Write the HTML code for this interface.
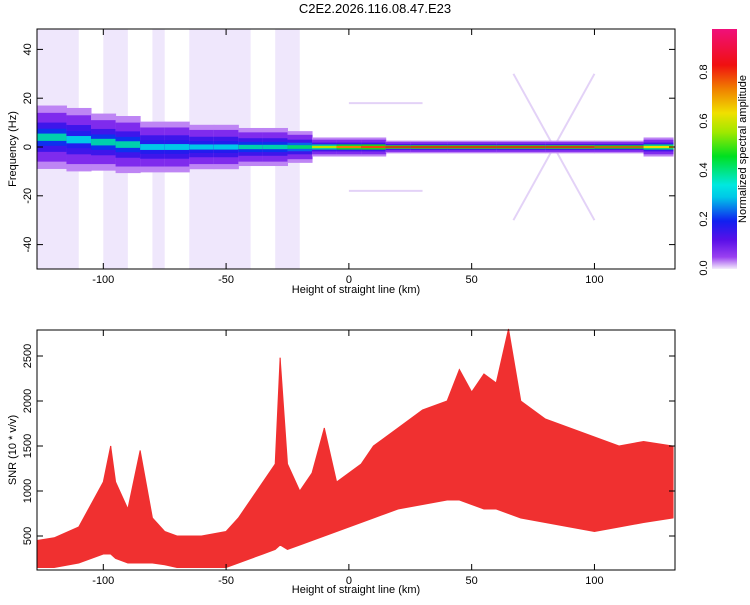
<!DOCTYPE html>
<html><head><meta charset="utf-8"><style>
body{margin:0;background:#fff;font-family:"Liberation Sans",sans-serif}
svg text{font-family:"Liberation Sans",sans-serif;font-size:11px;fill:#000}
</style></head><body>
<svg id="s" width="750" height="600">
<defs>
<linearGradient id="cb" x1="0" y1="1" x2="0" y2="0">
<stop offset="0" stop-color="#f4ecfb"/><stop offset="0.05" stop-color="#9a40f0"/>
<stop offset="0.12" stop-color="#5a10e8"/><stop offset="0.2" stop-color="#1020f0"/>
<stop offset="0.3" stop-color="#00c8e8"/><stop offset="0.35" stop-color="#00e8e0"/>
<stop offset="0.47" stop-color="#00e020"/><stop offset="0.57" stop-color="#a0e800"/>
<stop offset="0.65" stop-color="#f0e000"/><stop offset="0.75" stop-color="#f08000"/>
<stop offset="0.85" stop-color="#f01010"/><stop offset="1" stop-color="#f0107a"/>
</linearGradient>
<clipPath id="ct"><rect x="37" y="29" width="638" height="240"/></clipPath>
</defs>
<text x="375" y="13" text-anchor="middle" style="font-size:13px">C2E2.2026.116.08.47.E23</text>
<g id="topPlot"></g><g id="botPlot"></g>
<rect x="712" y="29" width="25" height="240" fill="url(#cb)"/>
<text transform="translate(746,149) rotate(-90)" text-anchor="middle">Normalized spectral amplitude</text>
</svg>
<script>
// ---- spectrogram data ----
const bandHeights=[-127,-115,-105,-95,-85,-75,-65,-55,-45,-35,-25,-15,-5,5,15,25,40,60,80,100,120,132];
const bandCenter=[4,3,2,1,0,0,0,0,0,0,0,0,0,0,0,0,0,0,0,0,0,0];
const bandWidth=[10,10,9,9,8,8,7,7,6,6,5,3,3,3,2,2,2,2,2,2,3,3];
const bandAmp=[0.35,0.3,0.35,0.35,0.3,0.3,0.3,0.3,0.35,0.35,0.4,0.6,0.75,0.8,0.85,0.85,0.85,0.85,0.85,0.8,0.65,0.6];
const streakRanges=[[-127,-110],[-100,-90],[-80,-75],[-65,-40],[-30,-20]];
const cbTicks=[0.0,0.2,0.4,0.6,0.8];
// ---- SNR data ----
const snrHeights=[-127,-120,-110,-100,-97,-95,-90,-85,-80,-75,-70,-60,-50,-45,-40,-35,-30,-28,-25,-20,-15,-10,-5,0,5,10,15,20,30,40,45,50,55,60,65,70,80,90,100,110,120,132];
const snrLow=[150,150,200,300,300,250,200,200,200,180,150,150,150,200,250,300,350,400,350,400,450,500,550,600,650,700,750,800,850,900,900,850,800,800,750,700,650,600,550,600,650,700];
const snrHigh=[450,480,600,1100,1500,1100,800,1450,700,550,500,500,550,700,900,1100,1300,2480,1300,1000,1200,1700,1100,1200,1300,1500,1600,1700,1900,2000,2350,2100,2300,2200,2800,2000,1800,1700,1600,1500,1550,1500];
const xTicks=[-100,-50,0,50,100];
const fTicks=[-40,-20,0,20,40];
const snrTicks=[500,1000,1500,2000,2500];

const NS="http://www.w3.org/2000/svg";
function mk(p,t,a){const e=document.createElementNS(NS,t);for(const k in a)e.setAttribute(k,a[k]);p.appendChild(e);return e;}
const L=37,R=675;
const X=h=>L+(h+127)*(R-L)/(132.8+127);
const T0=29,T1=269;
const FY=f=>147-f*2.44;
const B0=330,B1=570;
const SY=v=>536-(v-500)*0.09;
const AY=a=>268-a*245;
function col(a){const st=[[0,[244,236,251]],[0.05,[154,64,240]],[0.12,[90,16,232]],[0.2,[16,32,240]],[0.3,[0,200,232]],[0.47,[0,224,32]],[0.57,[160,232,0]],[0.65,[240,224,0]],[0.75,[240,128,0]],[0.85,[240,16,16]],[1,[240,16,122]]];
for(let i=1;i<st.length;i++){if(a<=st[i][0]){const t=(a-st[i-1][0])/(st[i][0]-st[i-1][0]);return 'rgb('+st[i-1][1].map((c,j)=>Math.round(c+(st[i][1][j]-c)*t)).join(',')+')';}}return 'rgb(240,16,122)';}

const topG=document.getElementById('topPlot');
const tg=mk(topG,'g',{'clip-path':'url(#ct)'});
streakRanges.forEach(r=>{
 const e=mk(tg,'rect',{x:X(r[0]),y:T0,width:X(r[1])-X(r[0]),height:T1-T0,fill:'#b890f0',opacity:0.22});
 
 
});
[[[67,-30],[100,30]],[[67,30],[100,-30]],[[0,18],[30,18]],[[0,-18],[30,-18]]].forEach(l=>{
 const e=mk(tg,'line',{x1:X(l[0][0]),y1:FY(l[0][1]),x2:X(l[1][0]),y2:FY(l[1][1]),stroke:'#d8c0f4','stroke-width':2,opacity:0.7});
 
 
});
for(let i=0;i<bandHeights.length-1;i++){
 const x0=X(bandHeights[i]),x1=X(bandHeights[i+1]),c=bandCenter[i],w=bandWidth[i],a=bandAmp[i];
 [[w*1.3,0.03],[w,0.08],[w*0.6,0.15],[w*0.35,a*0.6],[w*0.15,a]].forEach(([hw,am])=>{
  const e=mk(tg,'rect',{x:x0,y:FY(c+hw),width:x1-x0+0.5,height:Math.max(1,FY(c-hw)-FY(c+hw)),fill:col(am)});
  
  
 });
}
mk(topG,'rect',{x:L,y:T0,width:R-L,height:T1-T0,fill:'none',stroke:'#000','stroke-width':1});
xTicks.forEach(t=>{mk(topG,'line',{x1:X(t),y1:T1,x2:X(t),y2:T1-6,stroke:'#000'});mk(topG,'line',{x1:X(t),y1:T0,x2:X(t),y2:T0+6,stroke:'#000'});
 const e=mk(topG,'text',{x:X(t),y:T1+14,'text-anchor':'middle'});e.textContent=t;});
fTicks.forEach(t=>{mk(topG,'line',{x1:L,y1:FY(t),x2:L+6,y2:FY(t),stroke:'#000'});mk(topG,'line',{x1:R,y1:FY(t),x2:R-6,y2:FY(t),stroke:'#000'});
 const e=mk(topG,'text',{transform:`translate(${L-6},${FY(t)}) rotate(-90)`,'text-anchor':'middle'});e.textContent=t;});
let e=mk(topG,'text',{x:356,y:293,'text-anchor':'middle'});e.textContent='Height of straight line (km)';

e=mk(topG,'text',{transform:'translate(16,149) rotate(-90)','text-anchor':'middle'});e.textContent='Frequency (Hz)';

const svg=document.getElementById('s');
cbTicks.forEach(t=>{const e=mk(svg,'text',{transform:`translate(707,${AY(t)}) rotate(-90)`,'text-anchor':'middle'});e.textContent=t.toFixed(1);
 });

const botG=document.getElementById('botPlot');
let up=snrHeights.map((h,i)=>X(h)+','+SY(snrHigh[i]));
let dn=snrHeights.map((h,i)=>X(h)+','+SY(snrLow[i])).reverse();
e=mk(botG,'polygon',{points:up.concat(dn).join(' '),fill:'#f03030',stroke:'#f03030','stroke-width':1});

snrHeights.forEach((h,i)=>{const l=mk(botG,'line',{x1:X(h),y1:SY(snrLow[i]),x2:X(h),y2:SY(snrHigh[i]),stroke:'#f03030','stroke-width':1});
 });
mk(botG,'rect',{x:L,y:B0,width:R-L,height:B1-B0,fill:'none',stroke:'#000'});
xTicks.forEach(t=>{mk(botG,'line',{x1:X(t),y1:B1,x2:X(t),y2:B1-6,stroke:'#000'});mk(botG,'line',{x1:X(t),y1:B0,x2:X(t),y2:B0+6,stroke:'#000'});
 const e=mk(botG,'text',{x:X(t),y:B1+14,'text-anchor':'middle'});e.textContent=t;});
snrTicks.forEach(t=>{mk(botG,'line',{x1:L,y1:SY(t),x2:L+6,y2:SY(t),stroke:'#000'});mk(botG,'line',{x1:R,y1:SY(t),x2:R-6,y2:SY(t),stroke:'#000'});
 const e=mk(botG,'text',{transform:`translate(${L-6},${SY(t)}) rotate(-90)`,'text-anchor':'middle'});e.textContent=t;});
e=mk(botG,'text',{x:356,y:593,'text-anchor':'middle'});e.textContent='Height of straight line (km)';

e=mk(botG,'text',{transform:'translate(16,450) rotate(-90)','text-anchor':'middle'});e.textContent='SNR (10 * v/v)';

</script>
</body></html>
